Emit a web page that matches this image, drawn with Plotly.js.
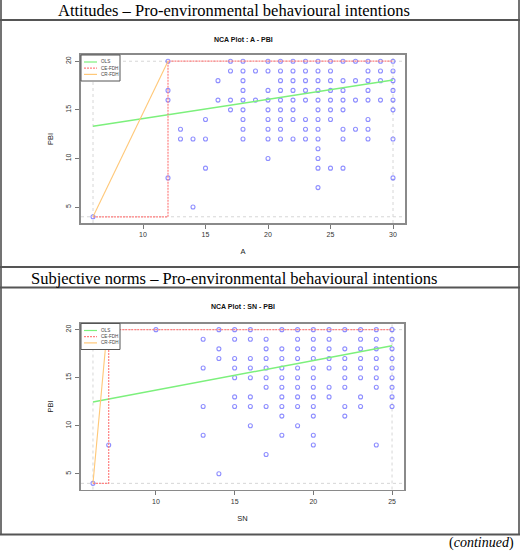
<!DOCTYPE html>
<html>
<head>
<meta charset="utf-8">
<script src="https://cdn.plot.ly/plotly-3.0.1.min.js"></script>
<style>
  html, body { margin: 0; padding: 0; background: #fff; }
  #myPlot { width: 520px; height: 551px; }
</style>
</head>
<body>
<div id="myPlot"></div>
<script>
// PBI levels (rows of the scatter) and the scores seen on each row
const pbiLevels = [20, 19, 18, 17, 16, 15, 14, 13, 12, 11, 10, 9, 8, 7, 5, 4];

const aByLevel = [
  [12, 17, 18, 20, 21, 22, 23, 24, 25, 26, 27, 28, 29, 30],
  [17, 18, 19, 20, 21, 22, 23, 24, 25, 28, 29, 30],
  [16, 18, 21, 22, 23, 24, 25, 26, 27, 28, 29, 30],
  [12, 18, 20, 21, 22, 23, 24, 25, 26, 28, 30],
  [12, 16, 17, 18, 19, 20, 21, 22, 23, 24, 25, 26, 27, 28, 29, 30],
  [17, 18, 20, 21, 22, 24, 25, 26, 30],
  [15, 18, 20, 21, 22, 23, 24, 25, 28],
  [13, 18, 20, 21, 23, 24, 26, 27, 28],
  [13, 14, 15, 18, 20, 21, 22, 23, 24, 26, 28, 30],
  [24],
  [20, 24],
  [15, 24, 25, 26],
  [12, 30],
  [24],
  [14],
  [6]
];

const snByLevel = [
  [7, 10, 14, 15, 16, 18, 19, 20, 21, 22, 23, 24, 25],
  [13, 15, 16, 17, 19, 20, 21, 23, 24, 25],
  [14, 17, 18, 19, 20, 21, 22, 23, 24, 25],
  [14, 15, 16, 17, 18, 19, 20, 21, 22, 23, 24, 25],
  [13, 15, 16, 17, 18, 19, 20, 21, 22, 23, 24, 25],
  [15, 16, 17, 18, 19, 20, 22, 23, 24, 25],
  [17, 18, 19, 20, 21, 22, 24, 25],
  [15, 16, 18, 19, 20, 21, 23, 25],
  [13, 15, 16, 17, 18, 19, 20, 22, 23, 25],
  [18, 20, 22],
  [16, 19],
  [13, 18, 20],
  [7, 20, 24],
  [17],
  [14],
  [6]
];

// ceiling / regression lines
const olsA = [13.3, 18.06];
const ceA_x = [6, 12, 12, 30];
const ceA_y = [4, 4, 20, 20];
const crA_x = [6, 12];
const crA_y = [4, 20];

const olsSN = [12.47, 18.33];
const ceSN_x = [6, 7, 7, 25];
const ceSN_y = [4, 4, 20, 20];
const crSN_x = [6, 6.9];
const crSN_y = [4, 20];

const xTicksA = [10, 15, 20, 25, 30];
const xTicksSN = [10, 15, 20, 25];
const yTicks = [5, 10, 15, 20];

function flatten(byLevel) {
  let xs = [], ys = [];
  for (let i = 0; i < byLevel.length; i++) {
    for (let j = 0; j < byLevel[i].length; j++) {
      xs.push(byLevel[i][j]);
      ys.push(pbiLevels[i]);
    }
  }
  return { x: xs, y: ys };
}

// R style range: data span plus 4% each side
function rRange(arr) {
  let lo = Math.min(...arr), hi = Math.max(...arr);
  let pad = (hi - lo) * 0.04;
  return [lo - pad, hi + pad];
}

const W = 520, H = 551;
function px(v) { return v / W; }
function py(v) { return 1 - v / H; }

const ptsA = flatten(aByLevel);
const ptsSN = flatten(snByLevel);

const ptColor = 'rgba(50,50,255,0.55)';
const olsColor = '#7cf07c';
const ceColor = '#ff8080';
const crColor = '#ffc878';

function makeTraces(pts, ols, ceX, ceY, crX, crY, xa, ya) {
  let xmin = Math.min(...pts.x), xmax = Math.max(...pts.x);
  return [
    { x: pts.x, y: pts.y, xaxis: xa, yaxis: ya, type: 'scatter', mode: 'markers',
      marker: { symbol: 'circle-open', size: 4, color: ptColor, line: { width: 1.1, color: ptColor } },
      hoverinfo: 'x+y', showlegend: false },
    { x: [xmin, xmax], y: ols, xaxis: xa, yaxis: ya, type: 'scatter', mode: 'lines',
      line: { color: olsColor, width: 1.5 }, name: 'OLS', showlegend: false },
    { x: ceX, y: ceY, xaxis: xa, yaxis: ya, type: 'scatter', mode: 'lines',
      line: { color: ceColor, width: 1.2, dash: '2px,1px' }, name: 'CE-FDH', showlegend: false },
    { x: crX, y: crY, xaxis: xa, yaxis: ya, type: 'scatter', mode: 'lines',
      line: { color: crColor, width: 1.1 }, name: 'CR-FDH', showlegend: false }
  ];
}

let data = makeTraces(ptsA, olsA, ceA_x, ceA_y, crA_x, crA_y, 'x', 'y')
  .concat(makeTraces(ptsSN, olsSN, ceSN_x, ceSN_y, crSN_x, crSN_y, 'x2', 'y2'));

const tickFont = { family: 'Liberation Sans, Arial, sans-serif', size: 7, color: '#333' };
const titleFont = { family: 'Liberation Sans, Arial, sans-serif', size: 7.5, color: '#222' };

function axisBase(extra) {
  let a = {
    showline: true, mirror: true, linecolor: '#8a8a8a', linewidth: 1.6,
    ticks: 'outside', ticklen: 4, tickwidth: 1, tickcolor: '#777',
    showgrid: false, zeroline: false, tickfont: tickFont, fixedrange: true
  };
  return Object.assign(a, extra);
}

// dotted scope lines at min / max of each variable
function scopeShapes(pts, xa, ya) {
  let out = [];
  let xs = [Math.min(...pts.x), Math.max(...pts.x)];
  let ys = [Math.min(...pts.y), Math.max(...pts.y)];
  xs.forEach(v => out.push({ type: 'line', xref: xa, yref: ya + ' domain', x0: v, x1: v, y0: 0, y1: 1,
    line: { color: '#d6d6d6', width: 1, dash: 'dot' }, layer: 'below' }));
  ys.forEach(v => out.push({ type: 'line', xref: xa + ' domain', yref: ya, x0: 0, x1: 1, y0: v, y1: v,
    line: { color: '#d6d6d6', width: 1, dash: 'dot' }, layer: 'below' }));
  return out;
}

// small legend box in the top left corner (pixel sizes turned into domain fractions)
function legendParts(xa, ya, dw, dh) {
  let shapes = [], notes = [];
  let bw = 39, bh = 26;
  shapes.push({ type: 'rect', xref: xa + ' domain', yref: ya + ' domain',
    x0: 0, x1: bw / dw, y0: 1 - bh / dh, y1: 1,
    line: { color: '#555', width: 1 }, fillcolor: '#fff', layer: 'above' });
  let items = [['OLS', olsColor, 'solid'], ['CE-FDH', ceColor, '2px,1px'], ['CR-FDH', crColor, 'solid']];
  items.forEach((it, i) => {
    let yy = 1 - (7 + i * 6.2) / dh;
    shapes.push({ type: 'line', xref: xa + ' domain', yref: ya + ' domain',
      x0: 3 / dw, x1: 16 / dw, y0: yy, y1: yy, line: { color: it[1], width: 1.2, dash: it[2] }, layer: 'above' });
    notes.push({ xref: xa + ' domain', yref: ya + ' domain', x: 18 / dw, y: yy, xanchor: 'left', yanchor: 'middle',
      text: it[0], showarrow: false, font: { family: 'Liberation Sans, Arial, sans-serif', size: 4.6, color: '#444' } });
  });
  return { shapes: shapes, notes: notes };
}

const legA = legendParts('x', 'y', 324, 168);
const legSN = legendParts('x2', 'y2', 323, 166);

// table frame of the page
const frameLine = { color: '#555', width: 2 };
const frame = [
  { type: 'line', xref: 'paper', yref: 'paper', x0: px(1), x1: px(1), y0: py(0), y1: py(534.5), line: { color: '#444', width: 1.5 } },
  { type: 'line', xref: 'paper', yref: 'paper', x0: px(519), x1: px(519), y0: py(0), y1: py(534.5), line: { color: '#444', width: 1.5 } },
  { type: 'line', xref: 'paper', yref: 'paper', x0: 0, x1: 1, y0: py(20), y1: py(20), line: frameLine },
  { type: 'line', xref: 'paper', yref: 'paper', x0: 0, x1: 1, y0: py(267), y1: py(267), line: frameLine },
  { type: 'line', xref: 'paper', yref: 'paper', x0: 0, x1: 1, y0: py(287.5), y1: py(287.5), line: frameLine },
  { type: 'line', xref: 'paper', yref: 'paper', x0: 0, x1: 1, y0: py(534.5), y1: py(534.5), line: frameLine }
];

const serif = 'Liberation Serif, Times New Roman, serif';
const headers = [
  { xref: 'paper', yref: 'paper', x: px(234), y: py(10.5), text: 'Attitudes – Pro-environmental behavioural intentions',
    showarrow: false, xanchor: 'center', yanchor: 'middle', font: { family: serif, size: 16.5, color: '#000' } },
  { xref: 'paper', yref: 'paper', x: px(234), y: py(278), text: 'Subjective norms – Pro-environmental behavioural intentions',
    showarrow: false, xanchor: 'center', yanchor: 'middle', font: { family: serif, size: 16.5, color: '#000' } },
  { xref: 'paper', yref: 'paper', x: px(243), y: py(39), text: '<b>NCA Plot : A - PBI</b>',
    showarrow: false, xanchor: 'center', yanchor: 'middle', font: { family: 'Liberation Sans, Arial, sans-serif', size: 7, color: '#111' } },
  { xref: 'paper', yref: 'paper', x: px(243), y: py(306.5), text: '<b>NCA Plot : SN - PBI</b>',
    showarrow: false, xanchor: 'center', yanchor: 'middle', font: { family: 'Liberation Sans, Arial, sans-serif', size: 7, color: '#111' } },
  { xref: 'paper', yref: 'paper', x: px(516), y: py(543), text: '(<i>continued</i>)',
    showarrow: false, xanchor: 'right', yanchor: 'middle', font: { family: serif, size: 14, color: '#000' } }
];

var layout = {
  width: W, height: H,
  margin: { l: 0, r: 0, t: 0, b: 0 },
  paper_bgcolor: '#fff', plot_bgcolor: '#fff',
  showlegend: false,
  xaxis: axisBase({ domain: [px(81), px(405)], anchor: 'y', range: rRange(ptsA.x), tickvals: xTicksA,
    title: { text: 'A', font: titleFont, standoff: 12 } }),
  yaxis: axisBase({ domain: [py(223), py(55)], anchor: 'x', range: rRange(ptsA.y), tickvals: yTicks, tickangle: -90,
    ticklabelstandoff: 2, title: { text: 'PBI', font: titleFont, standoff: 10 } }),
  xaxis2: axisBase({ domain: [px(81), px(404)], anchor: 'y2', range: rRange(ptsSN.x), tickvals: xTicksSN,
    title: { text: 'SN', font: titleFont, standoff: 12 } }),
  yaxis2: axisBase({ domain: [py(489.5), py(323.5)], anchor: 'x2', range: rRange(ptsSN.y), tickvals: yTicks, tickangle: -90,
    ticklabelstandoff: 2, title: { text: 'PBI', font: titleFont, standoff: 10 } }),
  shapes: frame.concat(scopeShapes(ptsA, 'x', 'y'), scopeShapes(ptsSN, 'x2', 'y2'), legA.shapes, legSN.shapes),
  annotations: headers.concat(legA.notes, legSN.notes)
};

Plotly.newPlot('myPlot', data, layout, { displayModeBar: false, staticPlot: true });
</script>
</body>
</html>
